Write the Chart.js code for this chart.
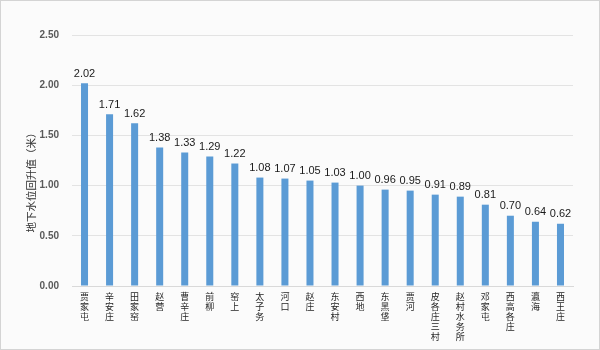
<!DOCTYPE html>
<html>
<head>
<meta charset="utf-8">
<script src="https://cdn.jsdelivr.net/npm/chart.js@4/dist/chart.umd.min.js"></script>
<style>
  html, body { margin: 0; padding: 0; background: #ffffff; }
  #wrap { width: 600px; height: 350px; }
</style>
</head>
<body>
<div id="wrap"><canvas id="c" width="600" height="350"></canvas></div>
<script>
// Monitoring stations and their groundwater level rise (m)
const stations = ['贾家屯', '辛安庄', '田家窑', '赵营', '曹辛庄', '前柳', '窑上', '太子务', '河口', '赵庄',
                  '东安村', '西地', '东黑垡', '贾河', '皮各庄三村', '赵村水务所', '邓家屯', '西高各庄', '瀛海', '西王庄'];
const riseValues = [2.02, 1.71, 1.62, 1.38, 1.33, 1.29, 1.22, 1.08, 1.07, 1.05,
                    1.03, 1.00, 0.96, 0.95, 0.91, 0.89, 0.81, 0.70, 0.64, 0.62];
const yTicks = [0, 0.5, 1, 1.5, 2, 2.5];
const yTitle = '地下水位回升值（米）';

const CJK = '"Noto Sans CJK SC", "Noto Sans", sans-serif';
const LAT = '"Liberation Sans", Arial, sans-serif';

// Background panel with thin frame
const panel = {
  id: 'panel',
  beforeDraw(chart) {
    const { ctx, width, height } = chart;
    ctx.save();
    ctx.fillStyle = '#fbfbfb';
    ctx.fillRect(0, 0, width, height);
    ctx.strokeStyle = '#d4d4d4';
    ctx.lineWidth = 1;
    ctx.strokeRect(0.5, 0.5, width - 1, height - 1);
    ctx.restore();
  }
};

// Value labels above each bar
const valueLabels = {
  id: 'valueLabels',
  afterDatasetsDraw(chart) {
    const { ctx } = chart;
    const meta = chart.getDatasetMeta(0);
    ctx.save();
    ctx.font = '11px ' + LAT;
    ctx.fillStyle = '#1a1a1a';
    ctx.textAlign = 'center';
    ctx.textBaseline = 'bottom';
    meta.data.forEach((bar, i) => {
      ctx.fillText(riseValues[i].toFixed(2), bar.x, bar.y - 4);
    });
    ctx.restore();
  }
};

// Rotated vertical axis title
const axisTitle = {
  id: 'axisTitle',
  afterDraw(chart) {
    const { ctx } = chart;
    ctx.save();
    ctx.translate(31, 180);
    ctx.rotate(-Math.PI / 2);
    ctx.font = '10.5px ' + CJK;
    ctx.fillStyle = '#333333';
    ctx.textAlign = 'center';
    ctx.textBaseline = 'middle';
    ctx.fillText(yTitle, 0, 0);
    ctx.restore();
  }
};

new Chart(document.getElementById('c'), {
  type: 'bar',
  data: {
    labels: stations.map(s => s.split('')),
    datasets: [{
      data: riseValues,
      backgroundColor: '#5b9bd5',
      borderWidth: 0,
      barPercentage: 0.28,
      categoryPercentage: 1.0
    }]
  },
  options: {
    responsive: false,
    animation: false,
    layout: { padding: { left: 0, right: 27, top: 35, bottom: 0 } },
    plugins: {
      legend: { display: false },
      tooltip: { enabled: false }
    },
    scales: {
      x: {
        grid: { display: false, drawTicks: false },
        border: { display: true, color: '#d9d9d9', width: 1 },
        ticks: {
          autoSkip: false,
          maxRotation: 0,
          minRotation: 0,
          padding: 6,
          color: '#262626',
          font: { family: CJK, size: 9, lineHeight: '10px' }
        },
        afterFit(scale) { scale.height = 64; }
      },
      y: {
        min: 0,
        max: 2.5,
        afterBuildTicks(scale) { scale.ticks = yTicks.map(v => ({ value: v })); },
        grid: { color: '#e3e3e3', drawTicks: false },
        border: { display: false },
        ticks: {
          padding: 13,
          color: '#595959',
          font: { family: LAT, size: 10, weight: 'bold' },
          callback: v => Number(v).toFixed(2)
        },
        afterFit(scale) { scale.width = 72; }
      }
    }
  },
  plugins: [panel, valueLabels, axisTitle]
});
</script>
</body>
</html>
